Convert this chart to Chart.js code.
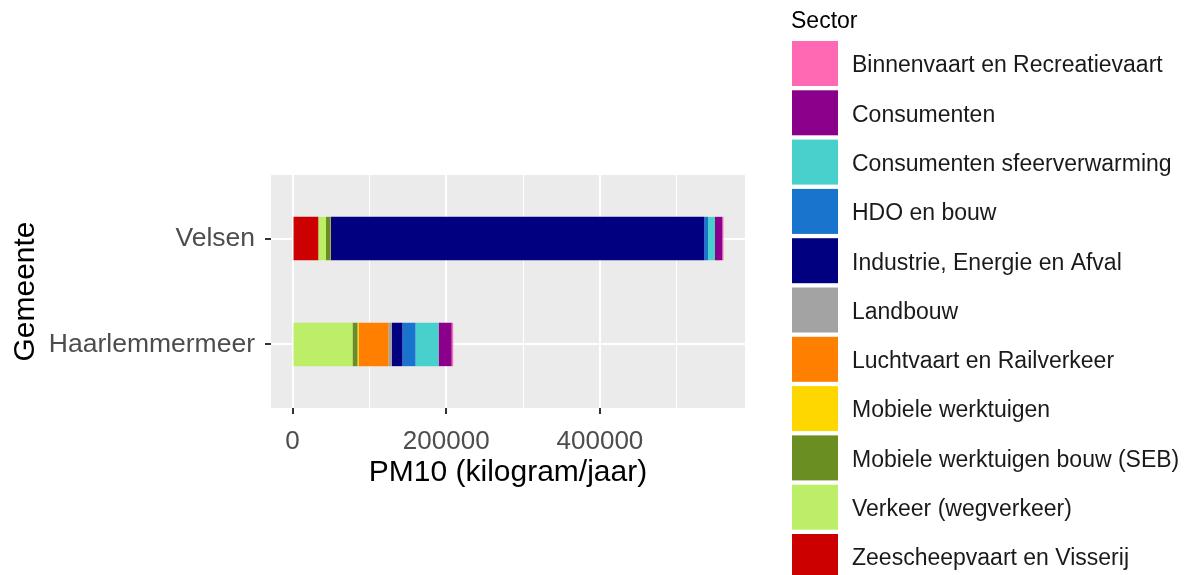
<!DOCTYPE html>
<html>
<head>
<meta charset="utf-8">
<script src="https://cdn.jsdelivr.net/npm/chart.js@4"></script>
<style>
  html, body { margin: 0; padding: 0; background: #fff; overflow: hidden; }
  #wrap { width: 1190px; height: 575px; position: relative; }
</style>
</head>
<body>
<div id="wrap"><canvas id="myChart"></canvas></div>
<script>
// data
const gemeenten = ['Velsen', 'Haarlemmermeer'];
const gemeentePos = [2, 1];   // Velsen on top

// sectors in legend order
const sectors = [
  'Binnenvaart en Recreatievaart',
  'Consumenten',
  'Consumenten sfeerverwarming',
  'HDO en bouw',
  'Industrie, Energie en Afval',
  'Landbouw',
  'Luchtvaart en Railverkeer',
  'Mobiele werktuigen',
  'Mobiele werktuigen bouw (SEB)',
  'Verkeer (wegverkeer)',
  'Zeescheepvaart en Visserij'
];
const sectorColors = [
  '#FF69B4', '#8B008B', '#48D1CC', '#1874CD', '#000080', '#A3A3A3',
  '#FF7F00', '#FFD700', '#6B8E23', '#BCEE68', '#CD0000'
];
const velsen =         [1500, 9500, 9000, 5000, 486000, 0, 0, 500, 5700, 10000, 33500];
const haarlemmermeer = [2000, 17000, 30000, 17000, 14000, 4000, 39000, 1500, 6500, 78000, 0];

const xTicks = [0, 100000, 200000, 300000, 400000, 500000];
const xTitle = 'PM10 (kilogram/jaar)';
const yTitle = 'Gemeente';
const legendTitle = 'Sector';

const perGemeente = [velsen, haarlemmermeer];
const maxTotal = Math.max(...perGemeente.map(a => a.reduce((s, v) => s + v, 0)));

// ggplot stacks the last legend entry first (leftmost)
const datasets = sectors.map((name, i) => ({
  label: name,
  backgroundColor: sectorColors[i],
  borderWidth: 0,
  barPercentage: 0.41,
  categoryPercentage: 1,
  data: perGemeente.map((arr, g) => ({ x: arr[i], y: gemeentePos[g] }))
})).reverse();

const panelBg = {
  id: 'panelBg',
  beforeDraw(chart) {
    const { ctx, chartArea: a } = chart;
    ctx.save();
    ctx.fillStyle = '#EBEBEB';
    ctx.fillRect(a.left, a.top, a.right - a.left, a.bottom - a.top);
    ctx.restore();
  }
};

const ggLegend = {
  id: 'ggLegend',
  afterDraw(chart) {
    const ctx = chart.ctx;
    ctx.save();
    ctx.textBaseline = 'middle';
    ctx.textAlign = 'left';
    ctx.fillStyle = '#000';
    ctx.font = '23px "Liberation Sans", Arial, sans-serif';
    ctx.fillText(legendTitle, 791, 22);
    ctx.font = '23px "Liberation Sans", Arial, sans-serif';
    sectors.forEach((name, i) => {
      const y = 41 + i * 49.3;
      ctx.fillStyle = sectorColors[i];
      ctx.fillRect(792, y, 46, 45);
      ctx.fillStyle = '#1A1A1A';
      ctx.fillText(name, 852, y + 25);
    });
    ctx.restore();
  }
};

const ctx = document.getElementById('myChart').getContext('2d');
const myChart = new Chart(ctx, {
  type: 'bar',
  data: { datasets },
  options: {
    indexAxis: 'y',
    responsive: true,
    maintainAspectRatio: false,
    animation: false,
    layout: { padding: { left: 0, top: 175, right: 445, bottom: 0 } },
    plugins: {
      legend: { display: false },
      tooltip: { enabled: false }
    },
    scales: {
      x: {
        type: 'linear',
        stacked: true,
        min: -0.05 * maxTotal,
        max: 1.05 * maxTotal,
        afterBuildTicks: (scale) => { scale.ticks = xTicks.map(v => ({ value: v })); },
        afterFit: (scale) => { scale.height = 167; },
        border: { display: false },
        grid: {
          color: '#FFFFFF',
          lineWidth: (c) => c.tick && c.tick.value % 200000 === 0 ? 2 : 1,
          tickColor: (c) => c.tick && c.tick.value % 200000 === 0 ? '#333333' : 'rgba(0,0,0,0)',
          tickWidth: 2,
          tickLength: 6
        },
        ticks: {
          color: '#4D4D4D',
          padding: 12,
          maxRotation: 0,
          autoSkip: false,
          font: { family: '"Liberation Sans", Arial, sans-serif', size: 26 },
          callback: (v) => v % 200000 === 0 ? String(v) : ''
        },
        title: {
          display: true,
          text: xTitle,
          color: '#000',
          font: { family: '"Liberation Sans", Arial, sans-serif', size: 30 },
          padding: { top: 0, bottom: 84 }
        }
      },
      y: {
        type: 'linear',
        stacked: true,
        offset: false,
        min: 0.4,
        max: 2.6,
        afterBuildTicks: (scale) => { scale.ticks = gemeentePos.map(v => ({ value: v })); },
        afterFit: (scale) => { scale.width = 271; },
        border: { display: false },
        grid: {
          offset: false,
          color: '#FFFFFF',
          lineWidth: 2,
          tickColor: '#333333',
          tickWidth: 2,
          tickLength: 6
        },
        ticks: {
          color: '#4D4D4D',
          padding: 10,
          autoSkip: false,
          font: { family: '"Liberation Sans", Arial, sans-serif', size: 26.5 },
          callback: (v) => gemeenten[gemeentePos.indexOf(v)] || ''
        },
        title: {
          display: true,
          text: yTitle,
          color: '#000',
          font: { family: '"Liberation Sans", Arial, sans-serif', size: 30 },
          padding: { top: 8, bottom: 0 }
        }
      }
    }
  },
  plugins: [panelBg, ggLegend]
});
</script>
</body>
</html>
